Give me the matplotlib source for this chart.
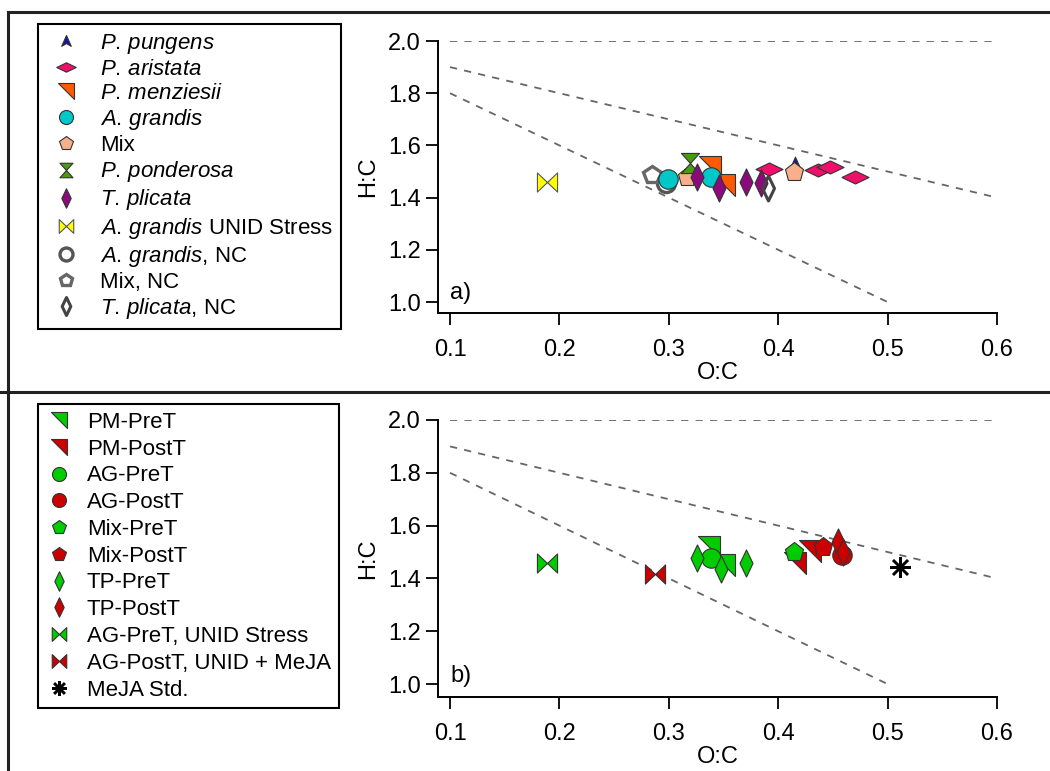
import matplotlib
matplotlib.use("Agg")
import matplotlib.pyplot as plt
from matplotlib.path import Path
from matplotlib.lines import Line2D
import numpy as np

plt.rcParams['font.family'] = ['Liberation Sans', 'DejaVu Sans']
plt.rcParams['mathtext.fontset'] = 'custom'
plt.rcParams['mathtext.rm'] = 'Liberation Sans'
plt.rcParams['mathtext.it'] = 'Liberation Sans:italic'

# ---------------- data: panel a ----------------
pp_x = [0.415]; pp_y = [1.525]                                   # P. pungens
pa_x = [0.392, 0.436, 0.447, 0.470]; pa_y = [1.510, 1.506, 1.517, 1.479]  # P. aristata
pm_x = [0.338, 0.350]; pm_y = [1.517, 1.448]                     # P. menziesii
ag_x = [0.299, 0.339]; ag_y = [1.470, 1.479]                     # A. grandis
mix_x = [0.317, 0.414]; mix_y = [1.479, 1.498]                   # Mix
ppo_x = [0.319]; ppo_y = [1.532]                                 # P. ponderosa
tp_x = [0.326, 0.346, 0.371, 0.384]; tp_y = [1.479, 1.437, 1.460, 1.456]  # T. plicata
agu_x = [0.189]; agu_y = [1.460]                                 # A. grandis UNID Stress
agnc_x = [0.297]; agnc_y = [1.456]                               # A. grandis, NC
mixnc_x = [0.285]; mixnc_y = [1.487]                             # Mix, NC
tpnc_x = [0.391]; tpnc_y = [1.437]                               # T. plicata, NC

# ---------------- data: panel b ----------------
pmpre_x = [0.337, 0.350]; pmpre_y = [1.520, 1.450]
pmpost_x = [0.415, 0.429]; pmpost_y = [1.458, 1.505]
agpre_x = [0.339]; agpre_y = [1.477]
agpost_x = [0.458]; agpost_y = [1.489]
mixpre_x = [0.414]; mixpre_y = [1.501]
mixpost_x = [0.441]; mixpost_y = [1.518]
tppre_x = [0.326, 0.348, 0.371]; tppre_y = [1.477, 1.436, 1.458]
tppost_x = [0.455, 0.459]; tppost_y = [1.538, 1.500]
agpreu_x = [0.189]; agpreu_y = [1.458]
agpostu_x = [0.287]; agpostu_y = [1.417]
meja_x = [0.511]; meja_y = [1.443]

# reference lines (Van Krevelen)
ref_lines = [([0.1, 0.6], [2.0, 2.0]), ([0.1, 0.6], [1.9, 1.4]), ([0.1, 0.5], [1.8, 1.0])]

xticks = [0.1, 0.2, 0.3, 0.4, 0.5, 0.6]
yticks = [1.0, 1.2, 1.4, 1.6, 1.8, 2.0]

# ---------------- custom markers ----------------
wide_diamond = Path([(0, 0.48), (1, 0), (0, -0.48), (-1, 0), (0, 0.48)],
                    [Path.MOVETO, Path.LINETO, Path.LINETO, Path.LINETO, Path.CLOSEPOLY])
tall_diamond = Path([(0, 1), (0.48, 0), (0, -1), (-0.48, 0), (0, 1)],
                    [Path.MOVETO, Path.LINETO, Path.LINETO, Path.LINETO, Path.CLOSEPOLY])
corner_tri = Path([(-1, 1), (1, 1), (1, -1), (-1, 1)],
                  [Path.MOVETO, Path.LINETO, Path.LINETO, Path.CLOSEPOLY])
hourglass = Path([(-0.9, 1), (0.9, 1), (0, 0), (0.9, -1), (-0.9, -1), (0, 0), (-0.9, 1)],
                 [Path.MOVETO] + [Path.LINETO] * 5 + [Path.CLOSEPOLY])
bowtie = Path([(-1, 0.95), (0, 0), (1, 0.95), (1, -0.95), (0, 0), (-1, -0.95), (-1, 0.95)],
              [Path.MOVETO] + [Path.LINETO] * 5 + [Path.CLOSEPOLY])
pungens_tri = Path([(0, 1), (0.8, -0.8), (0, -0.35), (-0.8, -0.8), (0, 1)],
                   [Path.MOVETO, Path.LINETO, Path.LINETO, Path.LINETO, Path.CLOSEPOLY])

EC = '#333333'
GREEN = '#00CC00'
RED = '#CC0000'
TICK_FS = 17
LEG_FS = 16

fig = plt.figure(figsize=(10.5, 7.71), dpi=100)
W, H = 1050, 771

def fx(px):
    return px / W

def fy(py):
    return 1 - py / H

# frame lines
for (x0, y0, x1, y1) in [(8, 12, 1050, 12), (8, 12, 8, 771), (0, 392, 1050, 392)]:
    fig.add_artist(Line2D([fx(x0), fx(x1)], [fy(y0), fy(y1)], color='#222222', lw=2.2,
                          transform=fig.transFigure))

def setup_axes(ax, ybottom, label):
    ax.set_xlim(0.089, 0.6)
    ax.set_ylim(ybottom, 2.0)
    for s in ['top', 'right']:
        ax.spines[s].set_visible(False)
    for s in ['left', 'bottom']:
        ax.spines[s].set_linewidth(1.4)
    ax.set_xticks(xticks)
    ax.set_yticks(yticks)
    ax.set_xticklabels([f'{v:.1f}' for v in xticks])
    ax.set_yticklabels([f'{v:.1f}' for v in yticks])
    ax.tick_params(direction='out', length=8.5, width=1.3, labelsize=TICK_FS, pad=4)
    ax.tick_params(axis='x', pad=10)
    ax.set_xlabel('O:C', fontsize=TICK_FS, labelpad=1)
    ax.set_ylabel('H:C', fontsize=TICK_FS, labelpad=6)
    ax.text(0.022, 0.075, label, transform=ax.transAxes, fontsize=TICK_FS, va='center', ha='left')
    for xs, ys in ref_lines:
        ax.plot(xs, ys, ls=(0, (4, 4)), color='#666666', lw=1.3, zorder=1)

# ---------------- panel a ----------------
axa = fig.add_axes([fx(438), fy(313), fx(997) - fx(438), fy(41) - fy(313)])
setup_axes(axa, 0.958, 'a)')

def mk(ax, xs, ys, marker, ms, fc, ec=EC, mew=0.8, label=None, z=3):
    return ax.plot(xs, ys, ls='none', marker=marker, ms=ms, mfc=fc, mec=ec, mew=mew,
                   label=label, zorder=z)[0]

ha = []
ha.append(mk(axa, pp_x, pp_y, pungens_tri, 12, '#1414A8', label=r'$\mathit{P.\,pungens}$'))
ha.append(mk(axa, pa_x, pa_y, wide_diamond, 19.5, '#F0106C', label=r'$\mathit{P.\,aristata}$'))
ha.append(mk(axa, pm_x, pm_y, corner_tri, 16, '#FF5A00', label=r'$\mathit{P.\,menziesii}$'))
ha.append(mk(axa, ag_x, ag_y, 'o', 14, '#00C8C8', label=r'$\mathit{A.\,grandis}$'))
ha.append(mk(axa, mix_x, mix_y, 'p', 14, '#F8B08C', label='Mix'))
ha.append(mk(axa, ppo_x, ppo_y, hourglass, 14.5, '#4A9A12', label=r'$\mathit{P.\,ponderosa}$'))
ha.append(mk(axa, tp_x, tp_y, tall_diamond, 19.5, '#8C0A7C', label=r'$\mathit{T.\,plicata}$'))
ha.append(mk(axa, agu_x, agu_y, bowtie, 14.5, '#FFFF00', ec='#555555', label=r'$\mathit{A.\,grandis}$ UNID Stress'))
ha.append(mk(axa, agnc_x, agnc_y, 'o', 13, 'none', ec='#555555', mew=2.4, label=r'$\mathit{A.\,grandis}$, NC', z=2))
ha.append(mk(axa, mixnc_x, mixnc_y, 'p', 13, 'none', ec='#666666', mew=2.4, label='Mix, NC', z=2))
ha.append(mk(axa, tpnc_x, tpnc_y, tall_diamond, 18, 'none', ec='#444444', mew=2.2, label=r'$\mathit{T.\,plicata}$, NC'))

leg_a = axa.legend(handles=ha, loc='upper left', bbox_to_anchor=(fx(38), fy(24)),
                   bbox_transform=fig.transFigure, borderaxespad=0, fontsize=LEG_FS,
                   labelspacing=0.14, handlelength=1.8, handletextpad=0.65, borderpad=0.35,
                   markerscale=0.72, fancybox=False, framealpha=1, edgecolor='black')
leg_a.get_frame().set_linewidth(1.5)

# ---------------- panel b ----------------
axb = fig.add_axes([fx(438), fy(697), fx(997) - fx(438), fy(420) - fy(697)])
setup_axes(axb, 0.951, 'b)')

hb = []
hb.append(mk(axb, pmpre_x, pmpre_y, corner_tri, 16, GREEN, label='PM-PreT'))
hb.append(mk(axb, pmpost_x, pmpost_y, corner_tri, 16, RED, label='PM-PostT'))
hb.append(mk(axb, agpre_x, agpre_y, 'o', 14, GREEN, label='AG-PreT'))
hb.append(mk(axb, agpost_x, agpost_y, 'o', 14, RED, label='AG-PostT'))
hb.append(mk(axb, mixpre_x, mixpre_y, 'p', 14, GREEN, label='Mix-PreT'))
hb.append(mk(axb, mixpost_x, mixpost_y, 'p', 14, RED, label='Mix-PostT'))
hb.append(mk(axb, tppre_x, tppre_y, tall_diamond, 19.5, GREEN, label='TP-PreT'))
hb.append(mk(axb, tppost_x, tppost_y, tall_diamond, 19.5, RED, label='TP-PostT'))
hb.append(mk(axb, agpreu_x, agpreu_y, bowtie, 14.5, GREEN, label='AG-PreT, UNID Stress'))
hb.append(mk(axb, agpostu_x, agpostu_y, bowtie, 14.5, RED, label='AG-PostT, UNID + MeJA'))
hb.append(mk(axb, meja_x, meja_y, (8, 2, 0), 15, 'black', ec='black', mew=1.8, label='MeJA Std.'))

leg_b = axb.legend(handles=hb, loc='upper left', bbox_to_anchor=(fx(38), fy(404)),
                   bbox_transform=fig.transFigure, borderaxespad=0, fontsize=LEG_FS,
                   labelspacing=0.26, handlelength=1.2, handletextpad=0.65, borderpad=0.35,
                   markerscale=0.72, fancybox=False, framealpha=1, edgecolor='black')
leg_b.get_frame().set_linewidth(1.5)

fig.savefig('out.png', dpi=100)
